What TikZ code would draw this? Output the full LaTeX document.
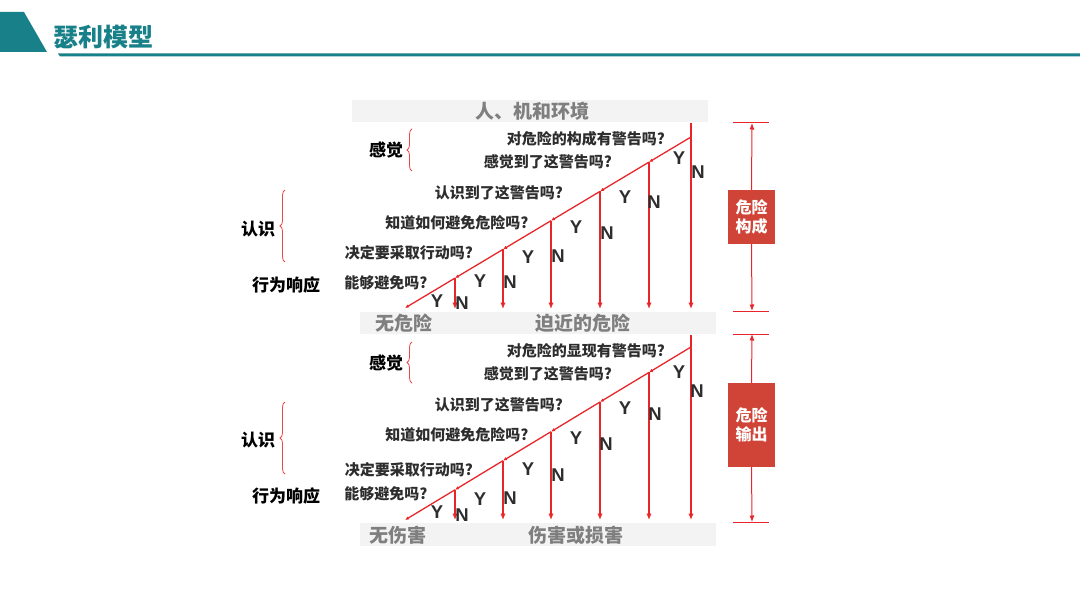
\documentclass[tikz,border=0pt]{standalone}
\usepackage{fontspec}
\setmainfont{Noto Sans CJK SC}
\newfontfamily\lat{Liberation Sans}
\usetikzlibrary{arrows.meta,decorations.pathreplacing,calc}
\definecolor{teal1}{RGB}{24,128,136}
\definecolor{lred}{RGB}{232,38,42}
\definecolor{boxred}{RGB}{208,68,56}
\definecolor{bandc}{RGB}{243,243,243}
\definecolor{bandtxt}{RGB}{127,127,127}
\definecolor{qtxt}{RGB}{45,45,45}
\tikzset{
  qst/.style={font=\bfseries\fontsize{15}{16}\selectfont, text=qtxt, inner sep=0pt},
  yn/.style={font=\lat\bfseries\fontsize{18.5}{18}\selectfont, text=qtxt, inner sep=0pt},
  lab/.style={font=\bfseries\fontsize{17}{18}\selectfont, text=black, inner sep=0pt},
  bandtext/.style={font=\bfseries\fontsize{19}{20}\selectfont, text=bandtxt, inner sep=0pt},
  bandbox/.style={fill=bandc, draw=none},
  vline/.style={draw=lred, line width=1.3pt, -{Latex[length=6.5pt,width=5.5pt]}},
  diag/.style={draw=lred, line width=1.3pt, -{Latex[length=4pt,width=3.5pt]}},
  brc/.style={draw=lred!85, line width=0.8pt, decorate, decoration={brace,amplitude=5pt}},
  dimarr/.style={draw=lred, line width=1pt, -{Latex[length=6.5pt,width=5pt]}},
  tick/.style={draw=lred, line width=1pt},
  redbox/.style={fill=boxred, text=white, minimum width=47pt, inner sep=0pt, font=\bfseries\fontsize{16}{19}\selectfont, align=center}
}
\begin{document}
\begin{tikzpicture}[x=1pt,y=-1pt]
\useasboundingbox (0,0) rectangle (1080,607);
% header
\fill[teal1] (0,12) -- (24,12) -- (47,52) -- (0,52) -- cycle;
\fill[teal1] (58,53.5) -- (1080,53.5) -- (1080,56.5) -- (60,56.5) -- cycle;
\node[font=\bfseries\fontsize{25}{26}\selectfont, text=teal1, inner sep=0pt] (title) at (103,37) {瑟利模型};

% ================= TOP SECTION =================
\fill[bandbox] (352,100) rectangle (708,122);
\node[bandtext] (env) at (532,111) {人、机和环境};
\fill[bandbox] (360,312) rectangle (716,334);
\node[bandtext] (safe1) at (404,323) {无危险};
\node[bandtext] (danger1) at (583,323) {迫近的危险};

\coordinate (a6) at (691,137);
\coordinate (a5) at (649,162.1);
\coordinate (a4) at (600,191.4);
\coordinate (a3) at (551,220.7);
\coordinate (a2) at (503,249.4);
\coordinate (a1) at (455,278.1);
\coordinate (a0) at (405,308);
\coordinate (a6top) at (691,123);
\foreach \n/\x in {1/455,2/503,3/551,4/600,5/649,6/691}{\coordinate (ae\n) at (\x,309);}
\draw[diag] (a6) -- (a5);
\draw[diag] (a5) -- (a4);
\draw[diag] (a4) -- (a3);
\draw[diag] (a3) -- (a2);
\draw[diag] (a2) -- (a1);
\draw[diag] (a1) -- (a0);
\draw[vline] (a6top) -- (ae6);
\foreach \n in {1,...,5}{\draw[vline] (a\n) -- (ae\n);}

\node[qst] (q1a) at (586,139) {对危险的构成有警告吗?};
\node[qst] (q2a) at (548,162) {感觉到了这警告吗?};
\node[qst] (q3a) at (499,193) {认识到了这警告吗?};
\node[qst] (q4a) at (457,223) {知道如何避免危险吗?};
\node[qst] (q5a) at (409,253) {决定要采取行动吗?};
\node[qst] (q6a) at (386,283) {能够避免吗?};

\node[yn] (y6a) at (679,158) {Y}; \node[yn] (n6a) at (698,172) {N};
\node[yn] (y5a) at (625,197) {Y}; \node[yn] (n5a) at (654,202) {N};
\node[yn] (y4a) at (576,227) {Y}; \node[yn] (n4a) at (607,233) {N};
\node[yn] (y3a) at (528,257) {Y}; \node[yn] (n3a) at (558,256) {N};
\node[yn] (y2a) at (480,281) {Y}; \node[yn] (n2a) at (510,282) {N};
\node[yn] (y1a) at (437,301) {Y}; \node[yn] (n1a) at (462,303) {N};

\node[lab] (perc1) at (386,150) {感觉};
\node[lab] (cog1) at (258,229) {认识};
\node[lab] (beh1) at (286,285) {行为响应};
\coordinate (bp1b) at (412,171); \coordinate (bp1t) at (412,129);
\draw[brc] (bp1b) -- (bp1t);
\coordinate (bc1b) at (285,262); \coordinate (bc1t) at (285,190);
\draw[brc] (bc1b) -- (bc1t);

\node[redbox, minimum height=54pt] (box1) at (751.5,217) {危险\\构成};
\coordinate (d1t) at (752,123); \coordinate (d1b) at (752,311);
\coordinate (t1l) at (733,123); \coordinate (t1r) at (769,123);
\coordinate (t2l) at (733,311); \coordinate (t2r) at (769,311);
\draw[tick] (t1l) -- (t1r);
\draw[tick] (t2l) -- (t2r);
\draw[dimarr] (box1.north) -- (d1t);
\draw[dimarr] (box1.south) -- (d1b);

% ================= BOTTOM SECTION =================
\fill[bandbox] (360,523) rectangle (716,546);
\node[bandtext] (safe2) at (398,535) {无伤害};
\node[bandtext] (danger2) at (576,535) {伤害或损害};

\coordinate (b6) at (691,347);
\coordinate (b5) at (649,372.4);
\coordinate (b4) at (600,402);
\coordinate (b3) at (551,431.7);
\coordinate (b2) at (503,460.7);
\coordinate (b1) at (455,489.8);
\coordinate (b0) at (405,520);
\coordinate (b6top) at (691,335);
\foreach \n/\x in {1/455,2/503,3/551,4/600,5/649,6/691}{\coordinate (be\n) at (\x,520);}
\draw[diag] (b6) -- (b5);
\draw[diag] (b5) -- (b4);
\draw[diag] (b4) -- (b3);
\draw[diag] (b3) -- (b2);
\draw[diag] (b2) -- (b1);
\draw[diag] (b1) -- (b0);
\draw[vline] (b6top) -- (be6);
\foreach \n in {1,...,5}{\draw[vline] (b\n) -- (be\n);}

\node[qst] (q1b) at (586,351) {对危险的显现有警告吗?};
\node[qst] (q2b) at (548,374) {感觉到了这警告吗?};
\node[qst] (q3b) at (499,405) {认识到了这警告吗?};
\node[qst] (q4b) at (457,435) {知道如何避免危险吗?};
\node[qst] (q5b) at (409,470) {决定要采取行动吗?};
\node[qst] (q6b) at (386,494) {能够避免吗?};

\node[yn] (y6b) at (679,372) {Y}; \node[yn] (n6b) at (697,391) {N};
\node[yn] (y5b) at (625,408) {Y}; \node[yn] (n5b) at (655,414) {N};
\node[yn] (y4b) at (576,438) {Y}; \node[yn] (n4b) at (606,444) {N};
\node[yn] (y3b) at (528,469) {Y}; \node[yn] (n3b) at (558,475) {N};
\node[yn] (y2b) at (480,499) {Y}; \node[yn] (n2b) at (510,498) {N};
\node[yn] (y1b) at (437,512) {Y}; \node[yn] (n1b) at (462,515) {N};

\node[lab] (perc2) at (386,363) {感觉};
\node[lab] (cog2) at (258,440) {认识};
\node[lab] (beh2) at (286,496) {行为响应};
\coordinate (bp2b) at (412,383); \coordinate (bp2t) at (412,342);
\draw[brc] (bp2b) -- (bp2t);
\coordinate (bc2b) at (285,474); \coordinate (bc2t) at (285,402);
\draw[brc] (bc2b) -- (bc2t);

\node[redbox, minimum height=84pt] (box2) at (751.5,425) {危险\\输出};
\coordinate (d2t) at (752,334); \coordinate (d2b) at (752,522);
\coordinate (t3l) at (733,334); \coordinate (t3r) at (769,334);
\coordinate (t4l) at (733,522); \coordinate (t4r) at (769,522);
\draw[tick] (t3l) -- (t3r);
\draw[tick] (t4l) -- (t4r);
\draw[dimarr] (box2.north) -- (d2t);
\draw[dimarr] (box2.south) -- (d2b);
\end{tikzpicture}
\end{document}
